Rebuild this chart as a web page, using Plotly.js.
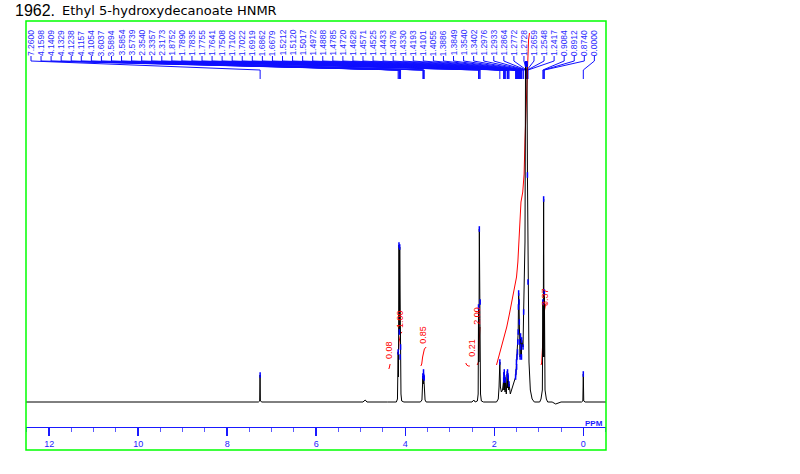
<!DOCTYPE html>
<html><head><meta charset="utf-8">
<script src="https://cdn.plot.ly/plotly-3.0.1.min.js"></script>
<style>html,body{margin:0;padding:0;background:#fff}#chart{width:800px;height:474px}</style>
</head><body><div id="chart"></div>
<script>
const chartNumber = '1962.';
const chartTitle = 'Ethyl 5-hydroxydecanoate HNMR';
const axisUnit = 'PPM';

// spectrum trace (ppm, intensity in arbitrary units above baseline)
const specPpm = [12.52, 7.30, 7.27, 7.262, 7.255, 7.22, 4.95, 4.90, 4.86, 4.40, 4.20, 4.175, 4.1598, 4.152, 4.1409, 4.1329, 4.1238, 4.1157, 4.1054, 4.096, 4.08, 4.03,
  3.66, 3.625, 3.6037, 3.597, 3.5894, 3.5854, 3.580, 3.5739, 3.555, 3.53,
  2.50, 2.46, 2.43, 2.38, 2.362, 2.3540, 2.345, 2.3357, 2.327, 2.3173, 2.309, 2.29, 2.24,
  1.95, 1.91, 1.893, 1.8752, 1.862, 1.84, 1.815, 1.7890, 1.786, 1.7835, 1.779, 1.7755, 1.770, 1.7641, 1.757, 1.7508, 1.73, 1.7102, 1.706, 1.7022, 1.697, 1.6919, 1.689, 1.6862, 1.678, 1.6679, 1.64, 1.60, 1.56,
  1.5212, 1.5120, 1.5017, 1.4972, 1.4888, 1.4785, 1.4720, 1.4628, 1.4571, 1.4525, 1.4433, 1.4376, 1.4330, 1.4193, 1.4101, 1.4055, 1.3886, 1.3849, 1.3540, 1.3402, 1.31,
  1.2976, 1.2933, 1.2864, 1.2772, 1.2728, 1.2659, 1.2548, 1.2417, 1.22, 1.19, 1.15, 1.10,
  0.98, 0.95, 0.92, 0.9084, 0.900, 0.8912, 0.882, 0.8740, 0.86, 0.83, 0.80, 0.70, 0.62, 0.50, 0.04, 0.01, 0.0, -0.01, -0.04, -0.51];
const specInt = [0, 0, 1, 27, 1, 0, 0, 2, 0, 0, 0, 3, 50, 25, 157, 70, 155, 45, 55, 8, 1, 0,
  0, 2, 26, 18, 30, 25, 18, 24, 2, 0,
  0, 2, 0, 1, 8, 95, 40, 173, 45, 100, 8, 1, 0,
  0, 3, 15, 40, 15, 10, 12, 22, 12, 27, 12, 30, 12, 24, 10, 22, 8, 28, 14, 30, 14, 26, 16, 24, 12, 18, 8, 14, 20,
  25, 30, 40, 35, 45, 50, 60, 70, 95, 109, 100, 80, 60, 45, 66, 55, 45, 62, 55, 90, 160,
  338, 338, 338, 338, 338, 338, 227, 120, 40, 12, 3, 0,
  0, 3, 12, 100, 45, 203, 45, 110, 12, 3, 0, 0, -2, 0, 0, 1, 28, 1, 0, 0];

// peak list (ppm) and picked heights
const peakPpm = [7.2600, 4.1598, 4.1409, 4.1329, 4.1238, 4.1157, 4.1054, 3.6037, 3.5894, 3.5854, 3.5739,
  2.3540, 2.3357, 2.3173, 1.8752, 1.7890, 1.7835, 1.7755, 1.7641, 1.7508, 1.7102, 1.7022, 1.6919, 1.6862, 1.6679,
  1.5212, 1.5120, 1.5017, 1.4972, 1.4888, 1.4785, 1.4720, 1.4628, 1.4571, 1.4525, 1.4433, 1.4376, 1.4330,
  1.4193, 1.4101, 1.4055, 1.3886, 1.3849, 1.3540, 1.3402, 1.2976, 1.2933, 1.2864, 1.2772, 1.2728, 1.2659, 1.2548, 1.2417,
  0.9084, 0.8912, 0.8740, 0.0000];
const peakHt = [27, 50, 157, 70, 155, 45, 55, 26, 30, 25, 24,
  95, 173, 100, 40, 22, 27, 30, 24, 22, 28, 30, 26, 24, 18,
  25, 30, 40, 35, 45, 50, 60, 70, 95, 109, 100, 80, 60,
  45, 66, 55, 45, 62, 55, 90, 338, 338, 338, 338, 338, 338, 227, 120,
  100, 203, 110, 28];

// integral curves (null separates regions)
const integPpm = [4.37, 4.36, 4.34, null,
  4.17, 4.15, 4.14, 4.12, 4.10, 4.07, null,
  3.65, 3.63, 3.61, 3.59, 3.57, 3.53, null,
  2.64, 2.62, 2.58, 2.55, null,
  2.385, 2.37, 2.355, 2.34, 2.33, 2.32, null,
  1.95, 1.92, 1.87, 1.80, 1.72, 1.66, 1.61, 1.55, 1.50, 1.47, 1.44, 1.42, 1.40, 1.36, 1.33, 1.31, 1.29, 1.27, 1.25, 1.23, 1.21, null,
  0.95, 0.935, 0.91, 0.89, 0.87, 0.85, 0.83];
const integInt = [33, 34, 38, null,
  48, 52, 60, 66, 69, 70, null,
  36, 38, 45, 50, 53, 55, null,
  39, 37, 36, 36, null,
  37, 39, 40, 60, 72, 75, null,
  37, 42, 52, 63, 75, 88, 99, 112, 125, 140, 162, 185, 200, 210, 228, 262, 292, 320, 345, 362, 369, null,
  37, 39, 60, 80, 92, 97, 99];
const integLabels = ['0.08', '1.00', '0.85', '0.21', '2.00', '3.37'];
const integLabelPpm = [4.365, 4.118, 3.608, 2.507, 2.395, 0.860];
const integLabelInt = [52, 83, 67, 54, 86, 105];

const tickVals = [12, 10, 8, 6, 4, 2, 0];
const tickText = ['12', '10', '8', '6', '4', '2', '0'];

// ---- geometry helpers (layout only) ----
const X0 = 12.52, X1 = -0.51, PLOT_L = 26, PLOT_W = 580, BASE_PY = 402;
const pxToPpm = px => X0 - (px - PLOT_L) * (X0 - X1) / PLOT_W;
const pyToInt = py => BASE_PY - py;
const BLUE = '#1a1aff';
const FONT = 'Liberation Sans, Arial, sans-serif';

const leadX = [], leadY = [];
const annotations = [];
peakPpm.forEach((p, i) => {
  const lp = pxToPpm(31 + i * 10.06);
  leadX.push(lp, lp, p, p, null);
  leadY.push(pyToInt(56), pyToInt(61), pyToInt(70), pyToInt(79), null);
  annotations.push({x: lp, y: pyToInt(43), xref: 'x', yref: 'y', text: p.toFixed(4), textangle: -90,
    showarrow: false, xanchor: 'center', yanchor: 'middle', font: {size: 8.5, color: '#2b2bff', family: FONT}});
});
integLabels.forEach((t, i) => {
  annotations.push({x: integLabelPpm[i], y: integLabelInt[i], xref: 'x', yref: 'y', text: t, textangle: -90,
    showarrow: false, xanchor: 'center', yanchor: 'middle', font: {size: 9, color: '#ff0000', family: FONT}});
});
annotations.push({xref: 'paper', yref: 'paper', x: (13 - 26) / 580, y: (450 - 11) / 429, xanchor: 'left', yanchor: 'middle',
  text: chartNumber, showarrow: false, font: {size: 16, color: '#000', family: FONT}});
annotations.push({xref: 'paper', yref: 'paper', x: (60 - 26) / 580, y: (450 - 11) / 429, xanchor: 'left', yanchor: 'middle',
  text: chartTitle, showarrow: false, font: {size: 13, color: '#000', family: 'DejaVu Sans, sans-serif'}});
annotations.push({xref: 'paper', yref: 'paper', x: (605 - 26) / 580, y: (450 - 423) / 429, xanchor: 'right', yanchor: 'middle',
  text: '<b>' + axisUnit + '</b>', showarrow: false, font: {size: 8, color: BLUE, family: FONT}});

const traces = [
  {x: leadX, y: leadY, mode: 'lines', line: {color: '#1010ff', width: 1}, hoverinfo: 'skip'},
  {x: integPpm, y: integInt, mode: 'lines', line: {color: '#ff0000', width: 1}, connectgaps: false, hoverinfo: 'skip'},
  {x: specPpm, y: specInt, mode: 'lines', line: {color: '#000000', width: 1}, hoverinfo: 'skip'},
  {x: peakPpm, y: peakHt, mode: 'markers', marker: {symbol: 'line-ns-open', size: 4, color: '#0000ff', line: {color: '#0000ff', width: 1.5}}, hoverinfo: 'skip'}
];

const layout = {
  width: 800, height: 474,
  margin: {l: 26, r: 194, t: 21, b: 24},
  paper_bgcolor: '#ffffff', plot_bgcolor: '#ffffff',
  showlegend: false,
  xaxis: {range: [X0, X1], anchor: 'free', position: (450 - 427) / 429,
    showline: true, linecolor: BLUE, linewidth: 1, showgrid: false, zeroline: false,
    ticks: 'outside', ticklen: 8, tickwidth: 1.5, tickcolor: BLUE,
    tickmode: 'array', tickvals: tickVals, ticktext: tickText,
    tickfont: {size: 9, color: BLUE, family: FONT},
    minor: {tickmode: 'linear', tick0: 0, dtick: 0.5, ticks: 'outside', ticklen: 4, tickwidth: 1, tickcolor: '#5a5aff'}},
  yaxis: {range: [-48, 381], visible: false, showgrid: false, zeroline: false},
  shapes: [{type: 'rect', xref: 'paper', yref: 'paper', x0: 0, x1: 1, y0: 0, y1: 1,
    line: {color: '#00ff00', width: 1.5}, fillcolor: 'rgba(0,0,0,0)'}],
  annotations: annotations
};
Plotly.newPlot('chart', traces, layout, {staticPlot: true, displayModeBar: false});
</script></body></html>
